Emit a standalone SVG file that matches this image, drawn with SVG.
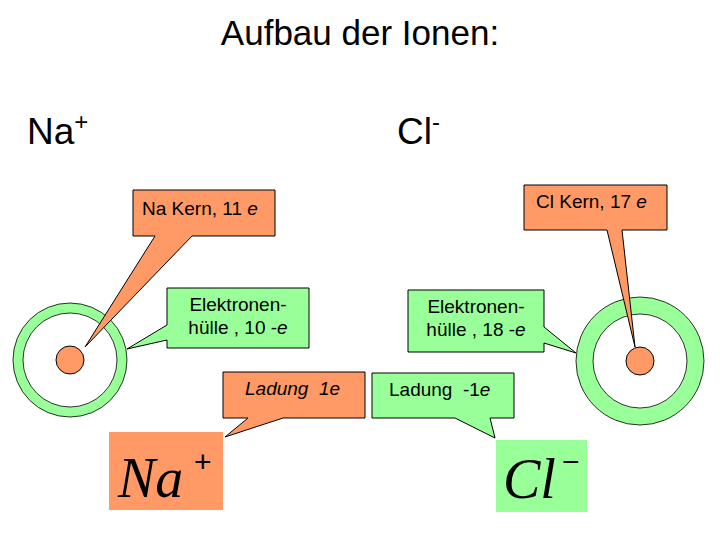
<svg xmlns="http://www.w3.org/2000/svg" width="720" height="540" viewBox="0 0 720 540">
<style>
text{font-family:"Liberation Sans",Arial,sans-serif;fill:#000}
.o{fill:#ff9966;stroke:#000;stroke-width:1}
.g{fill:#99ff99;stroke:#000;stroke-width:1}
.lab{font-size:19px}
.big{font-family:"Liberation Serif","Times New Roman",serif;font-style:italic;font-size:56px}
</style>
<rect width="720" height="540" fill="#fff"/>
<text x="360" y="45" font-size="35" text-anchor="middle">Aufbau der Ionen:</text>
<text x="27" y="144" font-size="37">Na<tspan font-size="24" dy="-14">+</tspan></text>
<text x="397" y="144" font-size="37">Cl<tspan font-size="24" dy="-14">-</tspan></text>
<g id="na-atom">
<circle cx="70" cy="360" r="52" fill="none" stroke="#99ff99" stroke-width="10"/>
<circle cx="70" cy="360" r="57" fill="none" stroke="#000" stroke-width="0.8"/>
<circle cx="70" cy="360" r="47" fill="none" stroke="#000" stroke-width="0.8"/>
<circle cx="70" cy="360" r="14" class="o"/>
</g>
<g id="cl-atom">
<circle cx="640" cy="361" r="55.5" fill="none" stroke="#99ff99" stroke-width="17"/>
<circle cx="640" cy="361" r="64" fill="none" stroke="#000" stroke-width="0.8"/>
<circle cx="640" cy="361" r="47" fill="none" stroke="#000" stroke-width="0.8"/>
<circle cx="640" cy="361" r="14" class="o"/>
</g>
<g id="na-kern">
<path class="o" d="M133 190H275V236H192L85 347L155 236H133Z"/>
<text class="lab" x="142" y="215">Na Kern, 11 <tspan font-style="italic">e</tspan></text>
</g>
<g id="na-huelle">
<path class="g" d="M167 288H309V348H167V340L127 349L167 325Z"/>
<text class="lab" x="238" y="311" text-anchor="middle">Elektronen-</text>
<text class="lab" x="238" y="334" text-anchor="middle">hülle , 10 -<tspan font-style="italic">e</tspan></text>
</g>
<g id="na-ladung">
<path class="o" d="M223 372H365V418H283L225 437L248 418H223Z"/>
<text class="lab" x="245" y="395" font-style="italic">Ladung&#160; 1e</text>
</g>
<g id="na-symbol">
<rect x="109" y="432" width="114" height="78" fill="#ff9966"/>
<text class="big" x="118" y="497">Na</text>
<text x="194" y="472" font-family="Liberation Serif,serif" font-size="30">+</text>
</g>
<g id="cl-kern">
<path class="o" d="M524 185H667V230H622L635 347L607 230H524Z"/>
<text class="lab" x="536" y="208">Cl Kern, 17 <tspan font-style="italic">e</tspan></text>
</g>
<g id="cl-huelle">
<path class="g" d="M408 290H544V327L576 353L544 343V352H408Z"/>
<text class="lab" x="476" y="313" text-anchor="middle">Elektronen-</text>
<text class="lab" x="476" y="336" text-anchor="middle">hülle , 18 -<tspan font-style="italic">e</tspan></text>
</g>
<g id="cl-ladung">
<path class="g" d="M372 373H514V418H490L495 438L455 418H372Z"/>
<text class="lab" x="389" y="396">Ladung&#160; -1<tspan font-style="italic">e</tspan></text>
</g>
<g id="cl-symbol">
<rect x="496" y="440" width="91" height="72" fill="#99ff99"/>
<text class="big" x="503" y="498">Cl</text>
<text x="562" y="472" font-family="Liberation Serif,serif" font-size="30">−</text>
</g>
</svg>
